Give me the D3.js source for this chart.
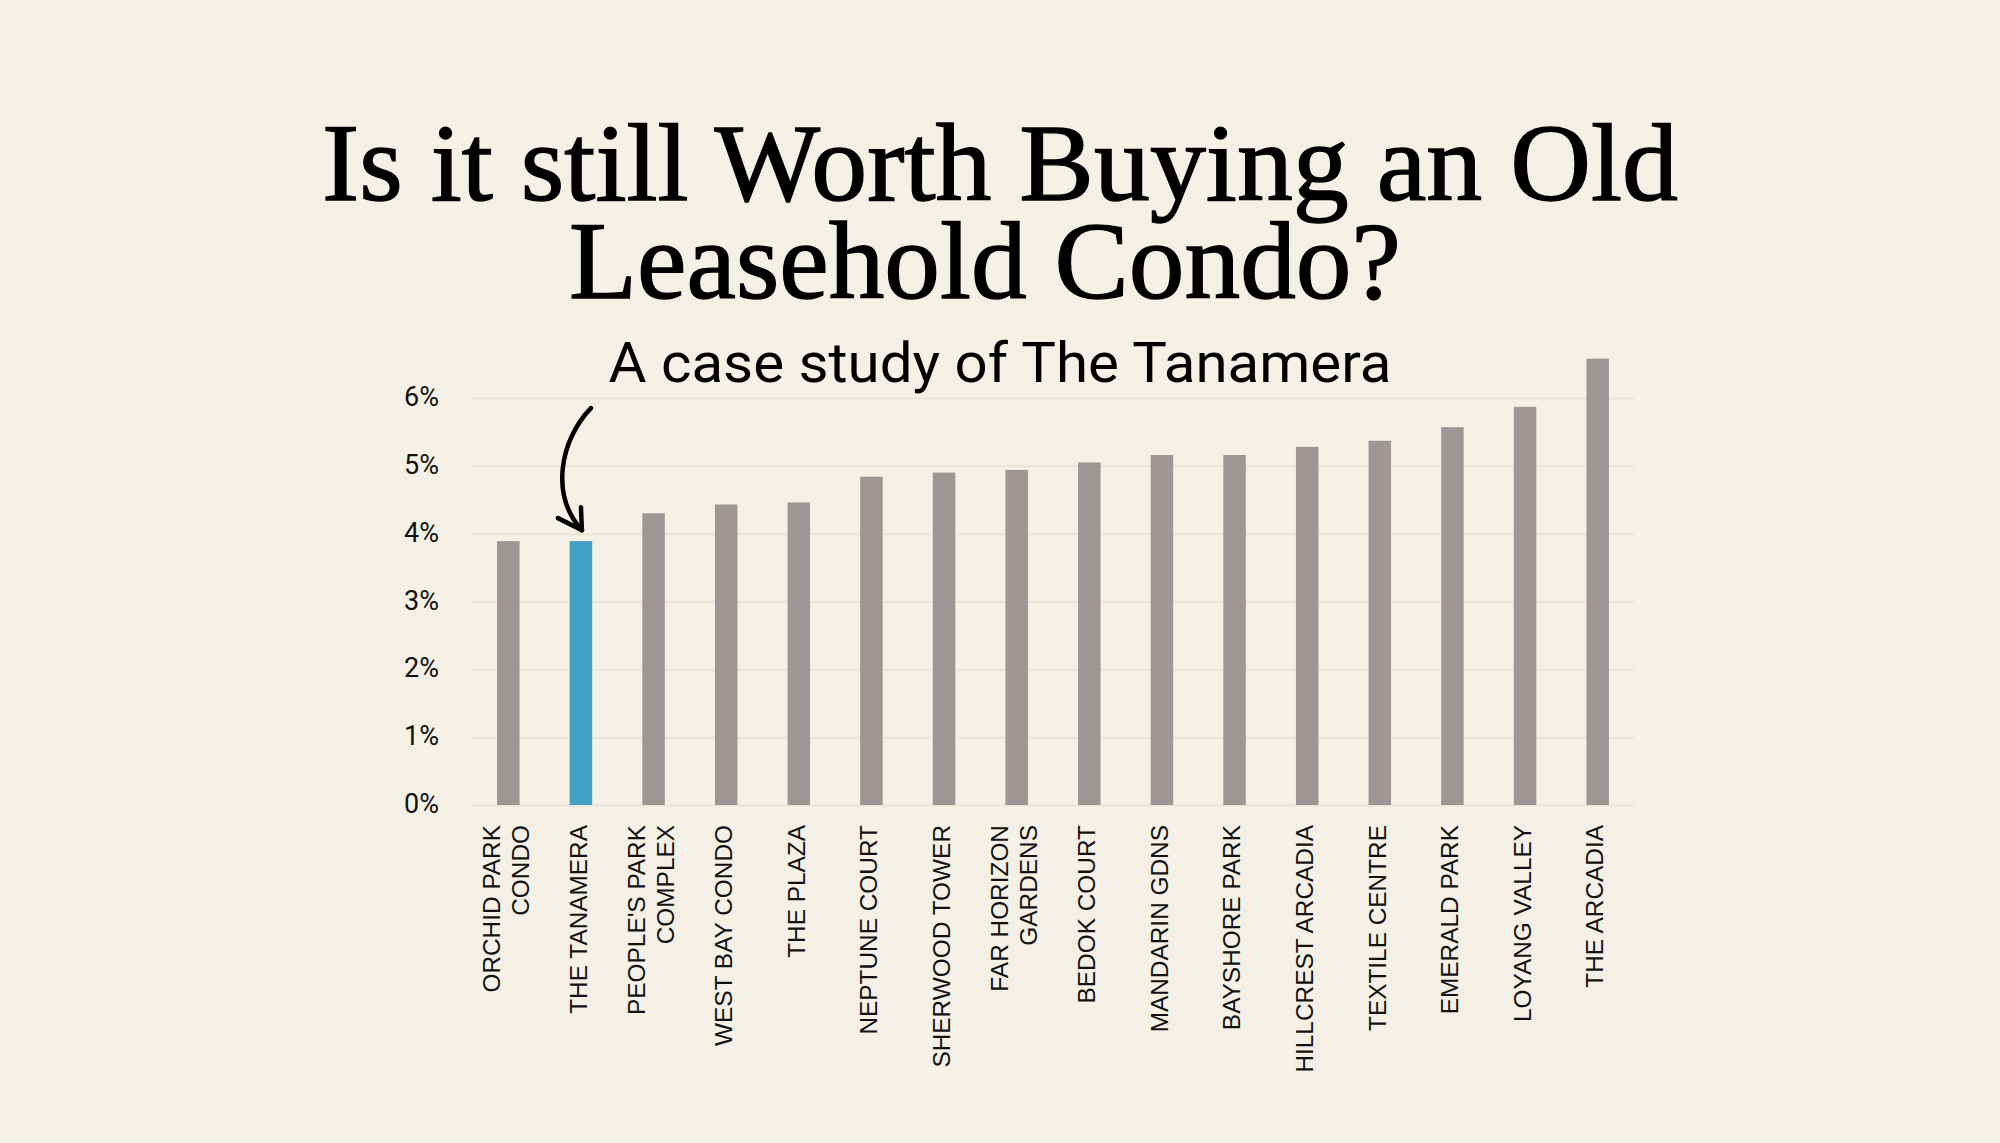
<!DOCTYPE html>
<html>
<head>
<meta charset="utf-8">
<script src="https://cdn.jsdelivr.net/npm/d3@7"></script>
<style>
  html, body { margin: 0; padding: 0; background: #F5F0E6; }
  svg { display: block; }
</style>
</head>
<body>
<svg id="chart" width="2000" height="1143"></svg>
<script>
// ---- data ----
const categories = [
  "ORCHID PARK\nCONDO", "THE TANAMERA", "PEOPLE'S PARK\nCOMPLEX", "WEST BAY CONDO",
  "THE PLAZA", "NEPTUNE COURT", "SHERWOOD TOWER", "FAR HORIZON\nGARDENS",
  "BEDOK COURT", "MANDARIN GDNS", "BAYSHORE PARK", "HILLCREST ARCADIA",
  "TEXTILE CENTRE", "EMERALD PARK", "LOYANG VALLEY", "THE ARCADIA"
];
const values = [3.89, 3.89, 4.30, 4.43, 4.46, 4.84, 4.90, 4.94, 5.05, 5.16, 5.16, 5.28, 5.37, 5.57, 5.87, 6.58];
const yTicks = [0, 1, 2, 3, 4, 5, 6];
const highlight = "THE TANAMERA";
const titleLines = ["Is it still Worth Buying an Old", "Leasehold Condo?"];
const subtitle = "A case study of The Tanamera";

// ---- layout ----
const svg = d3.select("#chart");
const W = 2000, H = 1143;
const plot = { left: 472, right: 1634, top: 398, bottom: 805 };
const colors = { bg: "#F5F0E6", bar: "#9E9595", hi: "#42A0C2", grid: "#EAE3D6", text: "#111" };

svg.append("rect").attr("width", W).attr("height", H).attr("fill", colors.bg);

const x = d3.scaleBand().domain(categories).range([plot.left, plot.right])
  .paddingInner(0.69).paddingOuter(0.345);
const y = d3.scaleLinear().domain([0, 6]).range([plot.bottom, plot.top]);

// title
const title = svg.append("g").attr("font-family", "'Liberation Serif', 'Times New Roman', serif")
  .attr("fill", "#000");
title.append("text").attr("x", 1000).attr("y", 200).attr("text-anchor", "middle")
  .attr("font-size", 111).attr("stroke", "#000").attr("stroke-width", 1.4)
  .attr("textLength", 1356).attr("lengthAdjust", "spacingAndGlyphs")
  .text(titleLines[0]);
title.append("text").attr("x", 985).attr("y", 298).attr("text-anchor", "middle")
  .attr("font-size", 111).attr("stroke", "#000").attr("stroke-width", 1.4)
  .attr("textLength", 832).attr("lengthAdjust", "spacingAndGlyphs")
  .text(titleLines[1]);

// subtitle
svg.append("text").attr("x", 1000).attr("y", 382).attr("text-anchor", "middle")
  .attr("font-family", "Roboto, 'Liberation Sans', sans-serif").attr("font-size", 55)
  .attr("fill", "#000").attr("textLength", 783).attr("lengthAdjust", "spacingAndGlyphs")
  .text(subtitle);

// grid + y axis
const yAxis = d3.axisLeft(y).tickValues(yTicks).tickFormat(d => d + "%")
  .tickSize(-(plot.right - plot.left)).tickPadding(33);
const gy = svg.append("g").attr("transform", `translate(${plot.left},0)`).call(yAxis);
gy.select(".domain").remove();
gy.selectAll(".tick line").attr("stroke", colors.grid).attr("stroke-width", 2);
gy.selectAll(".tick text").attr("font-family", "Roboto, 'Liberation Sans', sans-serif")
  .attr("font-size", 27).attr("fill", colors.text).attr("dy", "0.28em");

// bars
svg.append("g").selectAll("rect").data(categories).join("rect")
  .attr("x", d => x(d)).attr("width", x.bandwidth())
  .attr("y", (d, i) => y(values[i])).attr("height", (d, i) => y(0) - y(values[i]))
  .attr("fill", d => d === highlight ? colors.hi : colors.bar);

// x labels (rotated)
const xAxis = d3.axisBottom(x).tickSize(0).tickFormat("");
const gx = svg.append("g").attr("transform", `translate(0,${plot.bottom})`).call(xAxis);
gx.select(".domain").remove();
gx.selectAll(".tick").each(function(d) {
  const lines = d.split("\n");
  const lh = 29;
  const t = d3.select(this).append("text")
    .attr("transform", "translate(-3,20) rotate(-90)")
    .attr("text-anchor", "end")
    .attr("font-family", "'Liberation Sans', Arial, sans-serif")
    .attr("font-size", 24.4).attr("fill", colors.text);
  lines.forEach((ln, i) => {
    const off = (i - (lines.length - 1) / 2) * lh;
    t.append("tspan").attr("x", 0).attr("y", off).attr("dy", "0.36em").text(ln);
  });
});

// annotation arrow pointing at highlighted bar
const hi = categories.indexOf(highlight);
const tipX = x(highlight) + x.bandwidth() / 2 + 1;
const tipY = y(values[hi]) - 11;
const arrow = svg.append("g").attr("fill", "none").attr("stroke", "#000")
  .attr("stroke-width", 4.5).attr("stroke-linecap", "round").attr("stroke-linejoin", "round");
const p = d3.path();
p.moveTo(tipX + 9, tipY - 122);
p.bezierCurveTo(tipX - 22, tipY - 90, tipX - 32, tipY - 35, tipX, tipY);
arrow.append("path").attr("d", p.toString());
const h = d3.path();
h.moveTo(tipX - 24, tipY - 12);
h.lineTo(tipX, tipY);
h.lineTo(tipX - 1, tipY - 23);
arrow.append("path").attr("d", h.toString());
</script>
</body>
</html>
